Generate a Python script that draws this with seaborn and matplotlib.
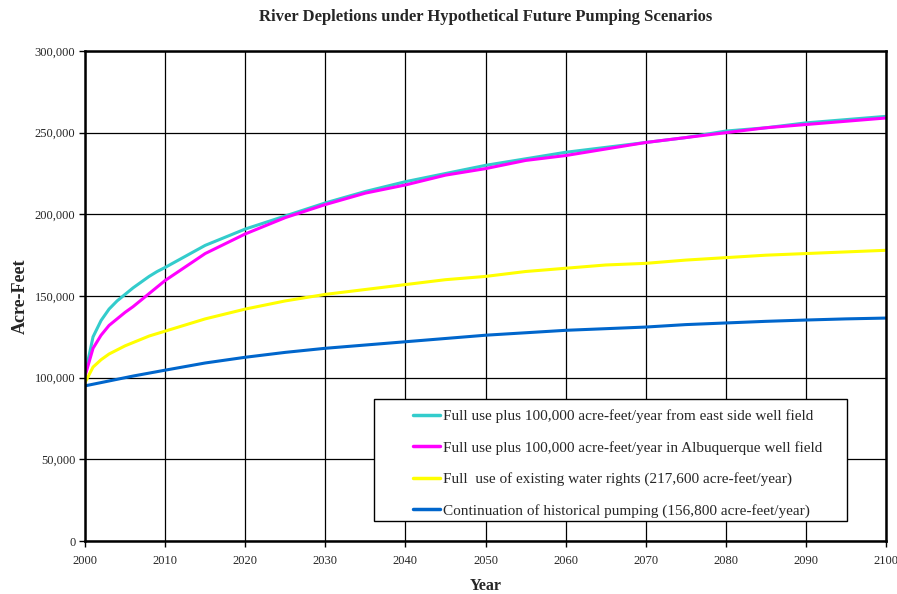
import matplotlib
matplotlib.use("Agg")
import matplotlib.pyplot as plt
import matplotlib.ticker as mticker
from matplotlib.patches import Rectangle
import seaborn as sns
import pandas as pd

# years sampled densely early on (where curves bend), every 5 years later
YEARS = [2000, 2001, 2002, 2003, 2004, 2005, 2006, 2007, 2008, 2009, 2010,
         2015, 2020, 2025, 2030, 2035, 2040, 2045, 2050, 2055, 2060,
         2065, 2070, 2075, 2080, 2085, 2090, 2095, 2100]

# thousands of acre-feet
EAST_SIDE = [102, 125, 135, 142, 147, 151, 155, 158.5, 162, 165, 167.5,
             181, 191, 199, 207, 214, 220, 225, 230, 234, 238,
             241, 244, 247, 251, 253, 256, 258, 260]
ALBUQUERQUE = [101, 118, 126, 132, 136, 140, 143.5, 147.5, 151.5, 155.5, 159.5,
               176, 188, 198, 206, 213, 218, 224, 228, 233, 236,
               240, 244, 247, 250, 253, 255, 257, 259]
FULL_USE = [97, 106.5, 111, 114.5, 117, 119.5, 121.5, 123.5, 125.5, 127, 128.5,
            136, 142, 147, 151, 154, 157, 160, 162, 165, 167,
            169, 170, 172, 173.5, 175, 176, 177, 178]
HISTORICAL = [95, 96, 97, 98, 99, 100, 101, 101.9, 102.8, 103.7, 104.6,
              109, 112.5, 115.5, 118, 120, 122, 124, 126, 127.5, 129,
              130, 131, 132.5, 133.5, 134.5, 135.3, 136, 136.5]

LABELS = [
    "Full use plus 100,000 acre-feet/year from east side well field",
    "Full use plus 100,000 acre-feet/year in Albuquerque well field",
    "Full  use of existing water rights (217,600 acre-feet/year)",
    "Continuation of historical pumping (156,800 acre-feet/year)",
]
COLORS = ["#33CCCC", "#FF00FF", "#FFFF00", "#0066CC"]

sns.set_theme(style="white")
plt.rcParams["font.family"] = ["Liberation Serif", "DejaVu Serif"]

frames = []
for label, vals in zip(LABELS, [EAST_SIDE, ALBUQUERQUE, FULL_USE, HISTORICAL]):
    frames.append(pd.DataFrame({"Year": YEARS,
                                "AcreFeet": [v * 1000 for v in vals],
                                "Scenario": label}))
df = pd.concat(frames, ignore_index=True)

fig = plt.figure(figsize=(8.97, 5.94), dpi=100)
ax = fig.add_axes([0.0948, 0.0892, 0.8929, 0.8249])

sns.lineplot(data=df, x="Year", y="AcreFeet", hue="Scenario",
             hue_order=LABELS, palette=dict(zip(LABELS, COLORS)),
             linewidth=2.2, ax=ax, legend=True)

ax.set_xlim(2000, 2100)
ax.set_ylim(0, 300000)
ax.set_xticks(range(2000, 2101, 10))
ax.set_yticks(range(0, 300001, 50000))
ax.yaxis.set_major_formatter(mticker.FuncFormatter(lambda v, p: f"{int(v):,}"))
ax.grid(True, color="black", linewidth=0.9)
ax.set_axisbelow(True)
for sp in ax.spines.values():
    sp.set_color("black")
    sp.set_linewidth(1.8)
ax.tick_params(axis="both", labelsize=9, length=4, width=1, color="black",
               direction="out", bottom=True, left=True)
ax.tick_params(axis="x", pad=6)
ax.tick_params(axis="y", pad=3)

ax.set_xlabel("Year", fontsize=11.5, fontweight="bold", labelpad=8)
ax.set_ylabel("Acre-Feet", fontsize=13, fontweight="bold", labelpad=4)
fig.suptitle("River Depletions under Hypothetical Future Pumping Scenarios",
             fontsize=12, fontweight="bold", x=0.541, y=0.985)

# legend box drawn separately so the wide Excel-style side margins can be kept
box = Rectangle((374 / 897, 1 - 521 / 594), (847 - 374) / 897, (521 - 399) / 594,
                transform=fig.transFigure, facecolor="white", edgecolor="black",
                linewidth=1, zorder=4, clip_on=False)
ax.add_patch(box)

leg = ax.legend(loc="upper left", bbox_to_anchor=(413 / 897, 1 - 409.5 / 594),
                bbox_transform=fig.transFigure, fontsize=11,
                handlelength=1.75, handletextpad=0.2, labelspacing=1.15,
                borderpad=0, frameon=False, borderaxespad=0)
leg.set_zorder(5)
for h in leg.get_lines():
    h.set_linewidth(2.5)

fig.savefig("out.png", dpi=100)
